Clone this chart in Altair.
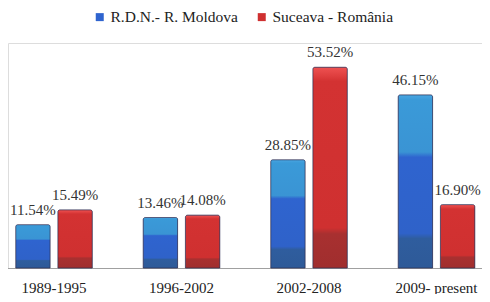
import altair as alt
import pandas as pd

periods = ["1989-1995", "1996-2002", "2002-2008", "2009- present"]
series_names = ["R.D.N.- R. Moldova", "Suceava - România"]
moldova = [11.54, 13.46, 28.85, 46.15]
suceava = [15.49, 14.08, 53.52, 16.90]

rows = []
for i, p in enumerate(periods):
    rows.append({"Period": p, "Series": series_names[0], "Value": moldova[i]})
    rows.append({"Period": p, "Series": series_names[1], "Value": suceava[i]})
df = pd.DataFrame(rows)

FONT = "'Liberation Serif', 'Times New Roman', 'DejaVu Serif', serif"

blue_grad = {
    "gradient": "linear", "x1": 0, "y1": 0, "x2": 0, "y2": 1,
    "stops": [
        {"offset": 0.0, "color": "#4aa6e2"},
        {"offset": 0.03, "color": "#3a9ad8"},
        {"offset": 0.33, "color": "#3a94d4"},
        {"offset": 0.36, "color": "#2f64cf"},
        {"offset": 0.80, "color": "#2f62c9"},
        {"offset": 0.83, "color": "#2f5d9e"},
        {"offset": 1.0, "color": "#2e5a98"},
    ],
}
red_grad = {
    "gradient": "linear", "x1": 0, "y1": 0, "x2": 0, "y2": 1,
    "stops": [
        {"offset": 0.0, "color": "#ee5252"},
        {"offset": 0.04, "color": "#e04040"},
        {"offset": 0.07, "color": "#d33232"},
        {"offset": 0.80, "color": "#cf3030"},
        {"offset": 0.83, "color": "#a83030"},
        {"offset": 1.0, "color": "#a02e2e"},
    ],
}

x_enc = alt.X(
    "Period:N",
    sort=periods,
    scale=alt.Scale(range=[-17.75, 492.25], paddingInner=0.4, paddingOuter=0.2),
    axis=alt.Axis(
        title=None, labelAngle=0, ticks=False, grid=False,
        domainColor="#a0a0a0", domainWidth=1.2,
        labelFont=FONT, labelFontSize=15, labelColor="#222222",
        labelPadding=12,
    ),
)
xoff_enc = alt.XOffset(
    "Series:N", sort=series_names,
    scale=alt.Scale(domain=series_names, paddingInner=0.186, paddingOuter=0),
)
y_enc = alt.Y(
    "Value:Q",
    scale=alt.Scale(domain=[0, 60], nice=False),
    axis=None,
)

base = alt.Chart(df)

bars = base.mark_bar(stroke="#3a3a60", strokeWidth=0.6, cornerRadiusTopLeft=2, cornerRadiusTopRight=2).encode(
    x=x_enc,
    xOffset=xoff_enc,
    y=y_enc,
    color=alt.Color(
        "Series:N",
        sort=series_names,
        scale=alt.Scale(domain=series_names, range=["#2f64cf", "#cf3030"]),
        legend=alt.Legend(
            title=None, orient="none", direction="horizontal",
            legendX=84, legendY=-34, padding=0,
            symbolType="square", symbolSize=64, symbolStrokeWidth=0,
            labelFont=FONT, labelFontSize=15.5, labelColor="#222222",
            labelOffset=3, columnPadding=16,
            labelExpr="datum.label == 'Suceava - România' ? '\u00a0\u00a0\u00a0\u00a0\u00a0\u00a0\u00a0' + datum.label : datum.label",
        ),
    ),
)

grad_bars = base.mark_bar(stroke="#303050", strokeWidth=0.6, strokeOpacity=0.6, cornerRadiusTopLeft=2, cornerRadiusTopRight=2).encode(
    x=x_enc,
    xOffset=xoff_enc,
    y=y_enc,
    fill=alt.condition(
        f"datum.Series == '{series_names[0]}'",
        alt.value(blue_grad),
        alt.value(red_grad),
    ),
)

labels = base.transform_calculate(
    lab="format(datum.Value, '.2f') + '%'"
).mark_text(
    baseline="bottom", dy=-7, font=FONT, fontSize=15, color="#333333"
).encode(
    x=x_enc,
    xOffset=xoff_enc,
    y=y_enc,
    text="lab:N",
)

chart = alt.layer(bars, grad_bars, labels).properties(
    width=474,
    height=225,
    padding={"left": 0, "top": 35, "right": 0, "bottom": 26},
    autosize=alt.AutoSizeParams(type="none"),
).configure_view(stroke=None).configure(background="white")

chart.save("out.html", embed_options={"renderer": "svg", "actions": False})
